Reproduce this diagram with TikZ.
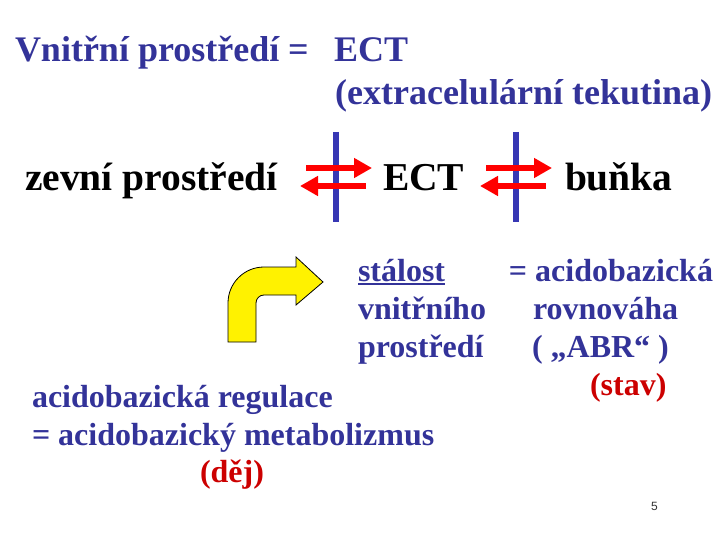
\documentclass[tikz,border=0pt]{standalone}
\usepackage{fontspec}
\setmainfont{Liberation Serif}
\newfontfamily\pagefont{Liberation Sans}
\usetikzlibrary{arrows.meta}
\definecolor{txtblue}{RGB}{51,51,153}
\definecolor{lineblue}{RGB}{55,55,180}
\definecolor{darkred}{RGB}{204,0,0}
\tikzset{
  lbl/.style={inner sep=0pt, outer sep=0pt, font=\bfseries\fontsize{36}{43}\selectfont},
  big/.style={inner sep=0pt, outer sep=0pt, font=\bfseries\fontsize{39.5}{46}\selectfont},
  sml/.style={inner sep=0pt, outer sep=0pt, font=\bfseries\fontsize{32}{38}\selectfont, text=txtblue},
  membrane/.style={draw=lineblue, line width=6pt},
  flux/.style={draw=red, line width=6pt, -{Triangle[length=18pt,width=19pt]}},
}
\begin{document}
\begin{tikzpicture}[x=1pt,y=-1pt]
\useasboundingbox (0,0) rectangle (720,540);
% title
\node[lbl, text=txtblue, anchor=base west] (t1) at (15,62) {Vnitřní prostředí};
\node[lbl, text=txtblue, anchor=base west] (teq) at (288,62) {=};
\node[lbl, text=txtblue, anchor=base west] (tect) at (334,62) {ECT};
\node[lbl, text=txtblue, anchor=base east] (t2) at (712,105) {(extracelulární tekutina)};
% middle row
\node[big, anchor=base west] (zev) at (25,191) {zevní prostředí};
\node[big, anchor=base west] (ect) at (383,191) {ECT};
\node[big, anchor=base west] (bun) at (565,191) {buňka};
% membranes
\coordinate (m1t) at (336,132); \coordinate (m1b) at (336,222);
\coordinate (m2t) at (516,132); \coordinate (m2b) at (516,222);
\draw[membrane] (m1t) -- (m1b);
\draw[membrane] (m2t) -- (m2b);
% exchange arrows
\coordinate (a1s) at (306,168); \coordinate (a1e) at (372,168);
\coordinate (a2s) at (366,186); \coordinate (a2e) at (300,186);
\coordinate (a3s) at (486,168); \coordinate (a3e) at (552,168);
\coordinate (a4s) at (546,186); \coordinate (a4e) at (480,186);
\draw[flux] (a1s) -- (a1e);
\draw[flux] (a2s) -- (a2e);
\draw[flux] (a3s) -- (a3e);
\draw[flux] (a4s) -- (a4e);
% yellow bent arrow
\draw[fill=yellow, draw=black, line width=0.8pt, line join=miter]
  (228,342) -- (228,303) arc (180:270:36) -- (296,267) -- (296,257) -- (323,282)
  -- (296,305) -- (296,295) -- (264,295) arc (270:180:8) -- (256,342) -- cycle;
% right block text
\node[sml, anchor=base west] (s1) at (358,281) {stálost};
\draw[txtblue, line width=2pt] ([yshift=-2.5pt]s1.base west) -- ([yshift=-2.5pt]s1.base east);
\node[sml, anchor=base west] (s2) at (358,319) {vnitřního};
\node[sml, anchor=base west] (s3) at (358,357) {prostředí};
\node[sml, anchor=base east] (r1) at (713,281) {= acidobazická};
\node[sml, anchor=base west] (r2) at (533,319) {rovnováha};
\node[sml, anchor=base west] (r3) at (532,357) {( „ABR“ )};
\node[sml, anchor=base west, text=darkred] (r4) at (590,395) {(stav)};
% bottom text
\node[sml, anchor=base west] (b1) at (32,407) {acidobazická regulace};
\node[sml, anchor=base west] (b2) at (32,445) {= acidobazický metabolizmus};
\node[sml, anchor=base west, text=darkred] (b3) at (200,482) {(děj)};
% page number
\node[inner sep=0pt, anchor=base west, font=\pagefont\fontsize{12}{14}\selectfont, text=black!80] (pg) at (651,510) {5};
\end{tikzpicture}
\end{document}
